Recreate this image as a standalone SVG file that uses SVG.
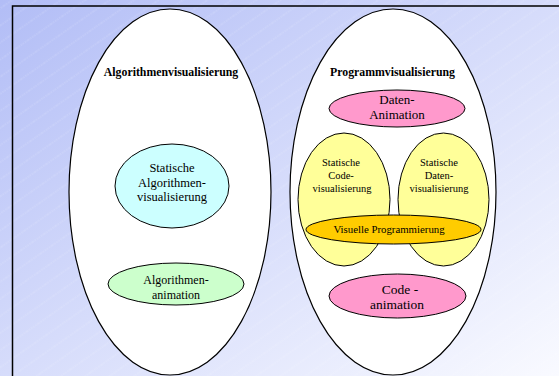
<svg xmlns="http://www.w3.org/2000/svg" width="559" height="376" viewBox="0 0 559 376">
  <defs>
    <linearGradient id="bg" x1="0" y1="0" x2="1" y2="1">
      <stop offset="0" stop-color="#b2bdf6"/>
      <stop offset="0.5" stop-color="#d6dcfb"/>
      <stop offset="1" stop-color="#f9faff"/>
    </linearGradient>
    <pattern id="stripes" width="14" height="14" patternUnits="userSpaceOnUse" patternTransform="rotate(-35)">
      <line x1="0" y1="7" x2="14" y2="7" stroke="#ffffff" stroke-width="0.7" stroke-dasharray="1.5 1" opacity="0.3"/>
    </pattern>
    <style>
      .outer { fill: #ffffff; stroke: #000000; stroke-width: 1.2; }
      .node { stroke: #000000; stroke-width: 1; }
      .title { font-family: "Liberation Serif", serif; font-weight: bold; font-size: 11.8px; fill: #000000; text-anchor: middle; }
      .label { font-family: "Liberation Serif", serif; fill: #000000; text-anchor: middle; }
    </style>
  </defs>

  <!-- slide background -->
  <rect x="0" y="0" width="559" height="376" fill="url(#bg)"/>
  <rect x="0" y="0" width="559" height="376" fill="url(#stripes)"/>
  <path d="M12.5 376 V6 H559" fill="none" stroke="#000000" stroke-width="1.5"/>

  <!-- algorithm visualisation -->
  <g id="algorithmenvisualisierung">
    <ellipse class="outer" cx="170" cy="192" rx="101" ry="183"/>
    <text class="title" x="171" y="76">Algorithmenvisualisierung</text>
  </g>
  <g id="statische-algorithmenvisualisierung">
    <ellipse class="node" cx="172" cy="186" rx="57" ry="42" fill="#ccffff"/>
    <text class="label" font-size="12.5" x="172" y="172">Statische</text>
    <text class="label" font-size="12.5" x="172" y="187">Algorithmen-</text>
    <text class="label" font-size="12.5" x="172" y="201">visualisierung</text>
  </g>
  <g id="algorithmenanimation">
    <ellipse class="node" cx="176" cy="284" rx="68" ry="21" fill="#ccffcc"/>
    <text class="label" font-size="12" x="176" y="284">Algorithmen-</text>
    <text class="label" font-size="12" x="176" y="299">animation</text>
  </g>

  <!-- program visualisation -->
  <g id="programmvisualisierung">
    <ellipse class="outer" cx="393" cy="192" rx="103" ry="183"/>
    <text class="title" x="392.5" y="76">Programmvisualisierung</text>
  </g>
  <g id="daten-animation">
    <ellipse class="node" cx="397" cy="108.5" rx="68" ry="18.5" fill="#ff99cc"/>
    <text class="label" font-size="13" x="397" y="104">Daten-</text>
    <text class="label" font-size="13" x="397" y="119">Animation</text>
  </g>
  <g id="statische-codevisualisierung">
    <ellipse class="node" cx="344" cy="199.5" rx="46" ry="66.5" fill="#ffff99"/>
    <text class="label" font-size="10.5" x="341" y="166">Statische</text>
    <text class="label" font-size="10.5" x="341" y="179">Code-</text>
    <text class="label" font-size="10.5" x="342" y="192">visualisierung</text>
  </g>
  <g id="statische-datenvisualisierung">
    <ellipse class="node" cx="443.5" cy="199.5" rx="45.5" ry="66.5" fill="#ffff99"/>
    <text class="label" font-size="10.5" x="439" y="166">Statische</text>
    <text class="label" font-size="10.5" x="439" y="179">Daten-</text>
    <text class="label" font-size="10.5" x="439" y="192">visualisierung</text>
  </g>
  <g id="visuelle-programmierung">
    <ellipse class="node" cx="393.5" cy="229.5" rx="87.5" ry="14.5" fill="#ffcc00"/>
    <text class="label" font-size="10.8" x="389" y="233">Visuelle Programmierung</text>
  </g>
  <g id="code-animation">
    <ellipse class="node" cx="397.5" cy="296" rx="68.5" ry="22" fill="#ff99cc"/>
    <text class="label" font-size="13.5" x="400" y="294">Code -</text>
    <text class="label" font-size="13.5" x="397" y="309">animation</text>
  </g>

  <!-- no connectors in this diagram -->
  <g id="connectors"/>
</svg>
